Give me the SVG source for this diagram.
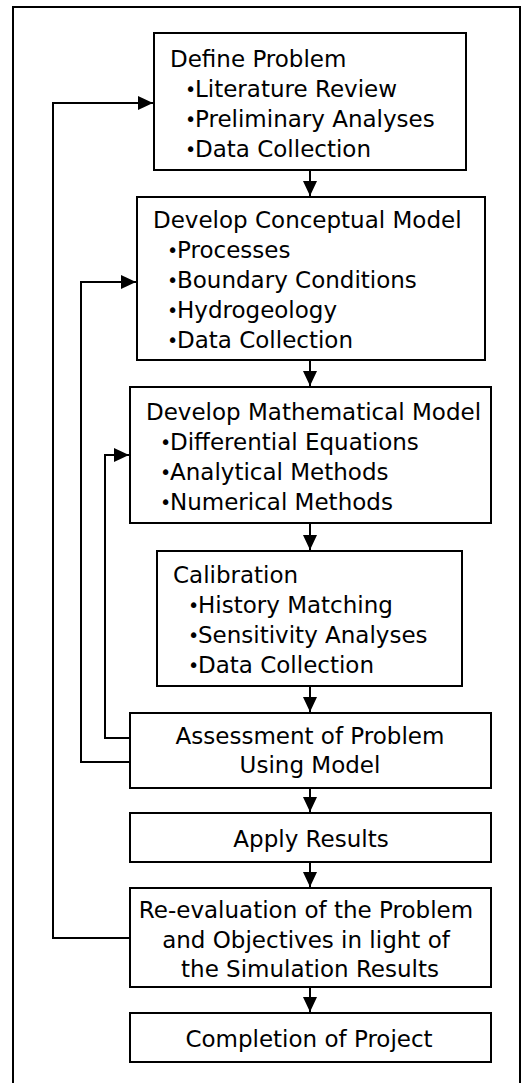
<svg xmlns="http://www.w3.org/2000/svg" width="527" height="1083" viewBox="0 0 527 1083">
<defs>
<style>
.box{fill:#fff;stroke:#000;stroke-width:2}
.t{font-family:"DejaVu Sans","Liberation Sans",sans-serif;font-size:23px;fill:#000}
.c{text-anchor:middle}
.b{font-size:19px}
.ln{fill:none;stroke:#000;stroke-width:2}
</style>
<marker id="ah" markerUnits="userSpaceOnUse" markerWidth="16" markerHeight="15" refX="15" refY="7" orient="auto">
<path d="M0,0 L15,7 L0,14 z" fill="#000"/>
</marker>
</defs>
<rect width="527" height="1083" fill="#fff"/>
<path d="M13,1090 V7 H520 V1090" fill="none" stroke="#000" stroke-width="2"/>

<g id="connectors">
<path class="ln" d="M310,170 V196" marker-end="url(#ah)"/>
<path class="ln" d="M310,360 V386" marker-end="url(#ah)"/>
<path class="ln" d="M310,523 V550" marker-end="url(#ah)"/>
<path class="ln" d="M310,686 V712" marker-end="url(#ah)"/>
<path class="ln" d="M310,788 V812" marker-end="url(#ah)"/>
<path class="ln" d="M310,862 V887" marker-end="url(#ah)"/>
<path class="ln" d="M310,987 V1012" marker-end="url(#ah)"/>
<path class="ln" d="M130,738 H105 V455 H129" marker-end="url(#ah)"/>
<path class="ln" d="M130,762 H81 V282 H136" marker-end="url(#ah)"/>
<path class="ln" d="M130,938 H53 V103 H153" marker-end="url(#ah)"/>
</g>

<g id="define-problem">
<rect class="box" x="154" y="33" width="312" height="137"/>
<text class="t" x="170" y="67">Define Problem</text>
<text class="t" y="97"><tspan class="b" x="185" dy="-1">•</tspan><tspan x="195" dy="1">Literature Review</tspan></text>
<text class="t" y="127"><tspan class="b" x="185" dy="-1">•</tspan><tspan x="195" dy="1">Preliminary Analyses</tspan></text>
<text class="t" y="157"><tspan class="b" x="185" dy="-1">•</tspan><tspan x="195" dy="1">Data Collection</tspan></text>
</g>

<g id="conceptual-model">
<rect class="box" x="137" y="197" width="348" height="163"/>
<text class="t" x="153" y="228">Develop Conceptual Model</text>
<text class="t" y="258"><tspan class="b" x="167" dy="-1">•</tspan><tspan x="177" dy="1">Processes</tspan></text>
<text class="t" y="288"><tspan class="b" x="167" dy="-1">•</tspan><tspan x="177" dy="1">Boundary Conditions</tspan></text>
<text class="t" y="318"><tspan class="b" x="167" dy="-1">•</tspan><tspan x="177" dy="1">Hydrogeology</tspan></text>
<text class="t" y="348"><tspan class="b" x="167" dy="-1">•</tspan><tspan x="177" dy="1">Data Collection</tspan></text>
</g>

<g id="mathematical-model">
<rect class="box" x="130" y="387" width="361" height="136"/>
<text class="t" x="146" y="420">Develop Mathematical Model</text>
<text class="t" y="450"><tspan class="b" x="160" dy="-1">•</tspan><tspan x="170" dy="1">Differential Equations</tspan></text>
<text class="t" y="480"><tspan class="b" x="160" dy="-1">•</tspan><tspan x="170" dy="1">Analytical Methods</tspan></text>
<text class="t" y="510"><tspan class="b" x="160" dy="-1">•</tspan><tspan x="170" dy="1">Numerical Methods</tspan></text>
</g>

<g id="calibration">
<rect class="box" x="157" y="551" width="305" height="135"/>
<text class="t" x="173" y="583">Calibration</text>
<text class="t" y="613"><tspan class="b" x="188" dy="-1">•</tspan><tspan x="198" dy="1">History Matching</tspan></text>
<text class="t" y="643"><tspan class="b" x="188" dy="-1">•</tspan><tspan x="198" dy="1">Sensitivity Analyses</tspan></text>
<text class="t" y="673"><tspan class="b" x="188" dy="-1">•</tspan><tspan x="198" dy="1">Data Collection</tspan></text>
</g>

<g id="assessment">
<rect class="box" x="130" y="713" width="361" height="75"/>
<text class="t c" x="310" y="744">Assessment of Problem</text>
<text class="t c" x="310" y="773">Using Model</text>
</g>

<g id="apply-results">
<rect class="box" x="130" y="813" width="361" height="49"/>
<text class="t c" x="311" y="847">Apply Results</text>
</g>

<g id="re-evaluation">
<rect class="box" x="130" y="888" width="361" height="99"/>
<text class="t c" x="306" y="918">Re-evaluation of the Problem</text>
<text class="t c" x="306" y="948">and Objectives in light of</text>
<text class="t c" x="310" y="977">the Simulation Results</text>
</g>

<g id="completion">
<rect class="box" x="130" y="1013" width="361" height="49"/>
<text class="t c" x="309" y="1047">Completion of Project</text>
</g>
</svg>
